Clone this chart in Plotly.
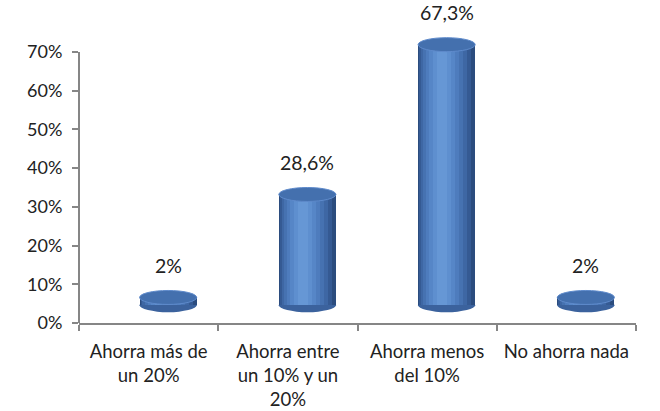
import plotly.graph_objects as go

categories = ["Ahorra más de<br>un 20%", "Ahorra entre<br>un 10% y un<br>20%", "Ahorra menos<br>del 10%", "No ahorra nada"]
values = [2.0, 28.6, 67.3, 2.0]
value_labels = ["2%", "28,6%", "67,3%", "2%"]
y_ticks = [0, 10, 20, 30, 40, 50, 60, 70]
y_ticktext = ["0%", "10%", "20%", "30%", "40%", "50%", "60%", "70%"]

# style (3D look)
DEPTH_Y = 4.6        # floor lift, in y units
DEPTH_X = 0.14       # perspective shift, in category units
CYL_W = 0.41         # cylinder width, category units
RY = 1.8             # ellipse half height, y units
Y_MAX_AXIS = 70
Y_RANGE_TOP = 76.2
FONT = "Lato, Open Sans, sans-serif"
AXIS_COL = "#868686"
TXT_COL = "#222222"

x_idx = list(range(len(categories)))
left = -CYL_W / 2 + DEPTH_X

# nested layers (fraction start, fraction end, colour) to fake the cylinder shading
layers = [
    (0.00, 1.00, "#2b4c7e"),
    (0.02, 0.93, "#355a93"),
    (0.05, 0.86, "#3e67a4"),
    (0.09, 0.79, "#4672b1"),
    (0.14, 0.72, "#4e7cbd"),
    (0.20, 0.65, "#5686c7"),
    (0.27, 0.58, "#5e8fcf"),
    (0.33, 0.51, "#6697d5"),
]

fig = go.Figure()
for a, b, col in layers:
    fig.add_trace(go.Bar(
        x=categories, y=values, base=[DEPTH_Y] * len(values),
        width=(b - a) * CYL_W, offset=left + a * CYL_W,
        marker=dict(color=col, line=dict(width=0)),
        cliponaxis=False, hoverinfo="skip", showlegend=False,
    ))

shapes = []
for i, v in zip(x_idx, values):
    x0 = i + left
    x1 = i + left + CYL_W
    shapes.append(dict(type="circle", xref="x", yref="y", layer="below",
                       x0=x0, x1=x1, y0=DEPTH_Y - RY, y1=DEPTH_Y + RY,
                       fillcolor="#3b629d", line=dict(width=0)))
    top = DEPTH_Y + v
    shapes.append(dict(type="circle", xref="x", yref="y", layer="above",
                       x0=x0, x1=x1, y0=top - RY, y1=top + RY,
                       fillcolor="#4470ae", line=dict(color="#5e8acb", width=1)))

# value axis line only from 0 to 70%
shapes.append(dict(type="line", xref="paper", yref="y", x0=0, x1=0,
                   y0=0, y1=Y_MAX_AXIS, line=dict(color=AXIS_COL, width=2)))

annotations = []
for i, v, t in zip(x_idx, values, value_labels):
    annotations.append(dict(x=i + DEPTH_X, y=DEPTH_Y + v, xref="x", yref="y",
                            text=t, showarrow=False, yshift=32, yanchor="middle",
                            font=dict(family=FONT, size=19.5, color=TXT_COL)))

fig.update_layout(
    width=660, height=411,
    margin=dict(l=79, r=24, t=28, b=88),
    paper_bgcolor="white", plot_bgcolor="white",
    barmode="overlay", bargap=0,
    shapes=shapes, annotations=annotations,
    font=dict(family=FONT, size=18, color=TXT_COL),
    xaxis=dict(type="category", tickson="boundaries", range=[-0.5, 3.5],
               showline=True, linecolor=AXIS_COL, linewidth=2,
               ticks="outside", ticklen=6, tickcolor=AXIS_COL, tickwidth=2,
               ticklabelstandoff=11, automargin=False,
               showgrid=False, tickfont=dict(size=18.5), fixedrange=True),
    yaxis=dict(range=[0, Y_RANGE_TOP], tickvals=y_ticks, ticktext=y_ticktext,
               showline=False, automargin=False,
               ticks="outside", ticklen=6, tickcolor=AXIS_COL, tickwidth=2,
               ticklabelstandoff=6,
               showgrid=False, zeroline=False, tickfont=dict(size=18), fixedrange=True),
)

fig.write_html("out.html")
